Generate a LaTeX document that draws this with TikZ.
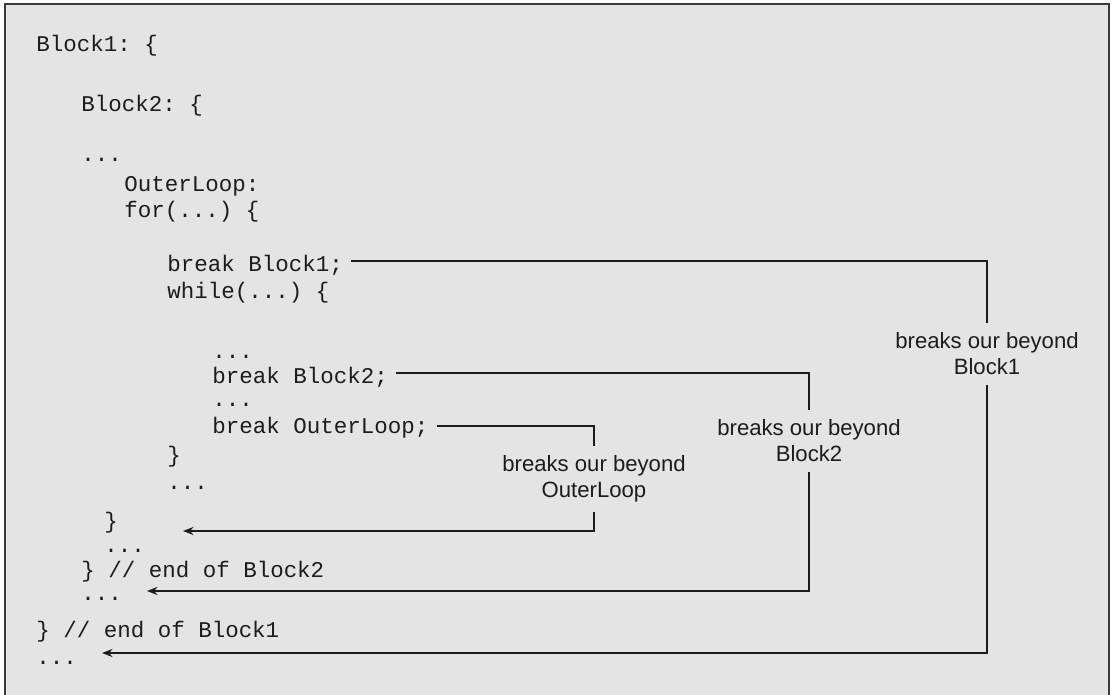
\documentclass[tikz,border=0pt]{standalone}
\usepackage{fontspec}
\setmainfont{Liberation Sans}
\setmonofont{Liberation Mono}
\usetikzlibrary{arrows.meta}
\definecolor{panelgray}{HTML}{E4E4E4}
\definecolor{framegray}{HTML}{3A3A3A}
\definecolor{inkgray}{HTML}{1C1C1C}

\begin{document}
\begin{tikzpicture}[x=0.02cm,y=-0.02cm,
      code/.style={anchor=base west,inner sep=0pt,text=inkgray,
        font=\fontsize{12.8}{15}\selectfont\ttfamily},
      note/.style={align=center,inner sep=5.5pt,text=inkgray,
        font=\fontsize{12.6}{14.7}\selectfont},
      wire/.style={draw=inkgray,line width=0.8pt},
      jump/.style={wire,-{Stealth[length=6pt,width=4.6pt]}}]
      \useasboundingbox (0,0) rectangle (1116,695);
      \fill[panelgray] (5,4) rectangle (1109,695);
      \draw[framegray,line width=1.1pt] (5,695)--(5,4)--(1109,4)--(1109,695);
      % the labelled blocks
      \node[code] (blockone) at (36,52) {Block1: \{};
      \node[code] (blocktwo) at (81,112) {Block2: \{};
      \node[code] (dotsa) at (81,162) {...};
      \node[code] (outerlbl) at (124,192) {OuterLoop:};
      \node[code] (forhead) at (124,218) {for(...) \{};
      \node[code] (brkone) at (167,272) {break Block1;};
      \node[code] (whilehead) at (167,299) {while(...) \{};
      \node[code] (dotsb) at (212,359) {...};
      \node[code] (brktwo) at (212,384) {break Block2;};
      \node[code] (dotsc) at (212,407) {...};
      \node[code] (brkouter) at (212,434) {break OuterLoop;};
      \node[code] (whileend) at (167,463) {\}};
      \node[code] (dotsd) at (167,490) {...};
      \node[code] (forend) at (104,529) {\}};
      \node[code] (dotse) at (104,553) {...};
      \node[code] (blocktwoend) at (81,578) {\} // end of Block2};
      \node[code] (dotsf) at (81,601) {...};
      \node[code] (blockoneend) at (36,638) {\} // end of Block1};
      \node[code] (dotsg) at (36,664) {...};
      % where each break lands
      \coordinate (landouter) at (183,531);
      \coordinate (landtwo) at (147,591);
      \coordinate (landone) at (102,653);
      \node[note] (noteone) at (987,354) {breaks our beyond\\Block1};
      \node[note] (notetwo) at (809,441) {breaks our beyond\\Block2};
      \node[note] (noteouter) at (594,479) {breaks our beyond\\OuterLoop};
      \draw[wire] ([shift={(8,-11)}]brkone.base east) -| (noteone.north);
      \draw[jump] (noteone.south) |- (landone);
      \draw[wire] ([shift={(8,-11)}]brktwo.base east) -| (notetwo.north);
      \draw[jump] (notetwo.south) |- (landtwo);
      \draw[wire] ([shift={(8,-8)}]brkouter.base east) -| (noteouter.north);
      \draw[jump] (noteouter.south) |- (landouter);
     \end{tikzpicture}
\end{document}
